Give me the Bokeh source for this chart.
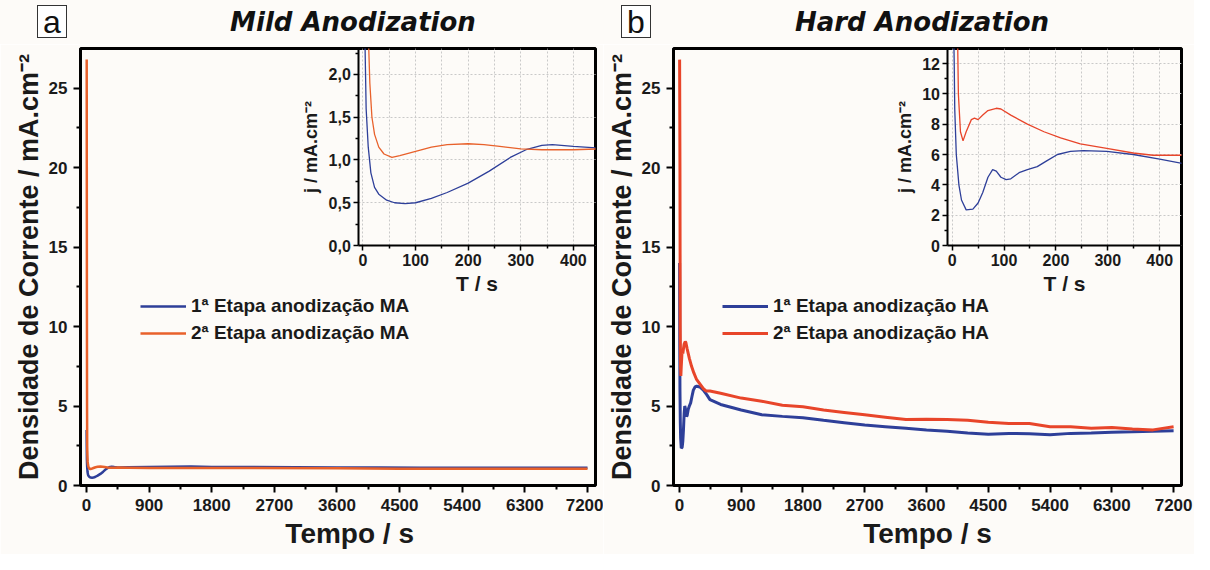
from bokeh.plotting import figure
from bokeh.models import (Range1d, LinearAxis, FixedTicker, Grid, Legend, LegendItem,
                          Div, CustomJSTickFormatter)
from bokeh.layouts import row, column
from bokeh.embed import file_html
from bokeh.resources import INLINE

# ---------------- data ----------------
# Panel a : Mild Anodization (MA)
t_ma1 = [2, 4, 6, 10, 15, 22, 30, 45, 60, 80, 100, 130, 160, 200, 240, 280, 310, 340, 360,
         400, 450, 600, 900, 1200, 1500, 1800, 2400, 3000, 3600, 4200, 4800, 5400, 6000, 6600, 7200]
j_ma1 = [3.5, 2.3, 1.6, 1.15, 0.85, 0.68, 0.6, 0.53, 0.5, 0.49, 0.5, 0.55, 0.62, 0.73, 0.87,
         1.03, 1.12, 1.17, 1.18, 1.16, 1.14, 1.15, 1.17, 1.18, 1.19, 1.17, 1.16, 1.15, 1.14,
         1.13, 1.12, 1.12, 1.12, 1.12, 1.12]
t_ma2 = [3, 6, 8, 10, 13, 17, 22, 30, 40, 55, 70, 100, 130, 160, 200, 230, 260, 300, 340,
         400, 450, 600, 900, 1500, 2400, 3600, 4500, 5400, 6300, 7200]
j_ma2 = [26.8, 12, 5, 2.5, 1.9, 1.5, 1.3, 1.15, 1.07, 1.03, 1.05, 1.1, 1.15, 1.18, 1.19, 1.18,
         1.16, 1.13, 1.12, 1.12, 1.13, 1.12, 1.1, 1.1, 1.1, 1.08, 1.05, 1.05, 1.05, 1.05]

# Panel b : Hard Anodization (HA)
t_ha1 = [3, 4, 5, 8, 13, 18, 27, 40, 50, 59, 69, 78, 85, 94, 104, 113, 129, 145, 164, 183,
         203, 228, 253, 298, 349, 400, 445, 600, 900, 1200, 1500, 1800, 2100, 2400, 2700,
         3000, 3300, 3600, 3900, 4200, 4500, 4800, 5100, 5400, 5700, 6000, 6300, 6600, 6900, 7200]
j_ha1 = [14, 12, 9, 6, 4, 3, 2.35, 2.4, 2.8, 3.5, 4.5, 5.0, 4.9, 4.5, 4.35, 4.4, 4.8, 5.0,
         5.2, 5.6, 6.0, 6.2, 6.25, 6.2, 6.0, 5.7, 5.4, 5.1, 4.75, 4.45, 4.35, 4.27, 4.1, 3.95,
         3.8, 3.7, 3.6, 3.5, 3.42, 3.3, 3.23, 3.28, 3.25, 3.2, 3.28, 3.3, 3.35, 3.38, 3.42, 3.45]
t_ha2 = [3, 8, 12, 16, 21, 27, 37, 43, 50, 59, 69, 85, 94, 113, 145, 177, 209, 247, 298, 349,
         387, 419, 445, 600, 900, 1200, 1500, 1800, 2100, 2400, 2700, 3000, 3300, 3600, 3900,
         4200, 4500, 4800, 5100, 5400, 5700, 6000, 6300, 6600, 6900, 7200]
j_ha2 = [26.8, 20, 10, 7.5, 6.9, 7.5, 8.3, 8.4, 8.3, 8.6, 8.9, 9.05, 9.0, 8.6, 8.0, 7.5, 7.1,
         6.7, 6.4, 6.1, 5.95, 5.95, 5.95, 5.8, 5.5, 5.3, 5.05, 4.95, 4.75, 4.6, 4.45, 4.3,
         4.15, 4.17, 4.15, 4.1, 3.98, 3.9, 3.9, 3.7, 3.7, 3.6, 3.65, 3.55, 3.5, 3.7]

labels_ma = ["1ª Etapa anodização MA", "2ª Etapa anodização MA"]
labels_ha = ["1ª Etapa anodização HA", "2ª Etapa anodização HA"]

x_ticks = [0, 900, 1800, 2700, 3600, 4500, 5400, 6300, 7200]
x_minor = [450, 1350, 2250, 3150, 4050, 4950, 5850, 6750]
y_ticks = [0, 5, 10, 15, 20, 25]
y_minor = [2.5, 7.5, 12.5, 17.5, 22.5]
ix_ticks = [0, 100, 200, 300, 400]
ix_minor = [50, 150, 250, 350, 450]
iya_ticks = [0.0, 0.5, 1.0, 1.5, 2.0]
iya_minor = [0.25, 0.75, 1.25, 1.75, 2.25]
iyb_ticks = [0, 2, 4, 6, 8, 10, 12]
iyb_minor = [1, 3, 5, 7, 9, 11]

# ---------------- style ----------------
BG = "#fdfbf8"
FONT = "Liberation Sans"
TXT = "#1a1a1a"
BLUE = "#2e3f99"
NB = "\u00a0"
HEAD_H = 44


def style_axis(ax, tick_size, label_size, tick_out, minor_out, tick_w, line_w, standoff, lab_standoff):
    ax.major_label_text_font = FONT
    ax.major_label_text_font_style = "bold"
    ax.major_label_text_font_size = tick_size
    ax.major_label_text_color = TXT
    ax.axis_label_text_font = FONT
    ax.axis_label_text_font_style = "bold"
    ax.axis_label_text_font_size = label_size
    ax.axis_label_text_color = TXT
    ax.major_tick_in = 0
    ax.minor_tick_in = 0
    ax.major_tick_out = tick_out
    ax.minor_tick_out = minor_out
    ax.major_tick_line_width = tick_w
    ax.minor_tick_line_width = tick_w
    ax.major_tick_line_color = "black"
    ax.minor_tick_line_color = "black"
    ax.axis_line_width = line_w
    ax.axis_line_color = "black"
    ax.major_label_standoff = standoff
    ax.axis_label_standoff = lab_standoff


def header(width, letter, letter_left, title, title_center):
    html = (
        f'<div style="position:relative;width:{width}px;height:{HEAD_H}px;background:{BG};'
        f'font-family:\'Liberation Sans\',Arial,sans-serif;">'
        f'<div style="position:absolute;left:{letter_left}px;top:5px;width:30px;height:33px;'
        f'border:1.5px solid #333;background:white;text-align:center;font-size:32px;'
        f'line-height:32px;color:#111;">{letter}</div>'
        f'<div style="position:absolute;left:{title_center - 200}px;top:6px;width:400px;'
        f'text-align:center;font-family:\'DejaVu Sans\',sans-serif;font-size:26px;'
        f'line-height:32px;font-weight:bold;font-style:italic;color:#111;">{title}</div>'
        f'</div>'
    )
    return Div(text=html, width=width, height=HEAD_H, margin=0,
               styles={"background-color": BG})


def make_panel(width, ml, mr, t1, j1, t2, j2, labels, red, main_w, leg_x,
               iy_top, iy_ticks, iy_minor, comma, xlabel):
    p = figure(width=width, height=554 - HEAD_H, output_backend="svg", toolbar_location=None,
               x_range=Range1d(-86, 7315), y_range=Range1d(0, 27.5),
               min_border_left=ml, min_border_right=mr, min_border_top=4,
               min_border_bottom=69, background_fill_color=BG, border_fill_color=BG,
               outline_line_color="black", outline_line_width=3, margin=0)
    p.xgrid.visible = False
    p.ygrid.visible = False

    p.xaxis.ticker = FixedTicker(ticks=x_ticks, minor_ticks=x_minor)
    p.yaxis.ticker = FixedTicker(ticks=y_ticks, minor_ticks=y_minor)
    p.xaxis.axis_label = xlabel
    p.yaxis.axis_label = "Densidade de Corrente / mA.cm⁻²"
    style_axis(p.xaxis[0], "17px", "28px", 7, 4, 2, 2, 6, 4)
    style_axis(p.yaxis[0], "17px", "27px", 7, 4, 2, 2, 6, 2)

    # main curves
    r1 = p.line(t1, j1, line_color=BLUE, line_width=main_w)
    r2 = p.line(t2, j2, line_color=red, line_width=main_w)

    # inset (zoom of first 450 s), drawn in its own ranges
    p.extra_x_ranges = {"ix": Range1d(-537, 442)}
    bottom_frac = 240.0 / 197.0
    p.extra_y_ranges = {"iy": Range1d(-iy_top * bottom_frac, iy_top)}

    gx = Grid(dimension=0, x_range_name="ix", y_range_name="iy",
              ticker=FixedTicker(ticks=ix_ticks + ix_minor),
              bounds=(0, 450), cross_bounds=(0, iy_top),
              grid_line_color="#c9c9c9", grid_line_dash="2 2", grid_line_width=1)
    gy = Grid(dimension=1, x_range_name="ix", y_range_name="iy",
              ticker=FixedTicker(ticks=iy_ticks),
              bounds=(0, iy_top), cross_bounds=(-8, 450),
              grid_line_color="#c9c9c9", grid_line_dash="2 2", grid_line_width=1)
    p.add_layout(gx)
    p.add_layout(gy)

    p.line(t1, j1, line_color=BLUE, line_width=1.3, x_range_name="ix", y_range_name="iy")
    p.line(t2, j2, line_color=red, line_width=1.3, x_range_name="ix", y_range_name="iy")

    ax = LinearAxis(x_range_name="ix", y_range_name="iy", fixed_location=0,
                    bounds=(-8, 450), axis_label="T / s",
                    ticker=FixedTicker(ticks=ix_ticks, minor_ticks=ix_minor))
    style_axis(ax, "16px", "21px", 5, 3, 1.5, 2, 3, 3)
    p.add_layout(ax, "below")
    ay = LinearAxis(x_range_name="ix", y_range_name="iy", fixed_location=-8,
                    bounds=(0, iy_top * 1.1), axis_label="j / mA.cm⁻²",
                    ticker=FixedTicker(ticks=iy_ticks, minor_ticks=iy_minor))
    if comma:
        ay.formatter = CustomJSTickFormatter(code="return tick.toFixed(1).replace('.', ',')")
    style_axis(ay, "16px", "18px", 5, 3, 1.5, 2, 3, 4)
    p.add_layout(ay, "left")

    # legend
    legend = Legend(items=[LegendItem(label=labels[0], renderers=[r1]),
                           LegendItem(label=labels[1], renderers=[r2])],
                    location=(leg_x, 141), padding=0, margin=0, spacing=5,
                    glyph_width=46, glyph_height=20, label_height=20, label_standoff=5,
                    border_line_alpha=0, background_fill_alpha=0,
                    label_text_font=FONT, label_text_font_style="bold",
                    label_text_font_size="19px", label_text_color=TXT)
    p.add_layout(legend)
    return p


pa = make_panel(603, 80, 8, t_ma1, j_ma1, t_ma2, j_ma2, labels_ma, "#e8612b", 2.5, 60,
                2.304, iya_ticks, iya_minor, True, NB * 3 + "Tempo / s")
pb = make_panel(591, 64, 13, t_ha1, j_ha1, t_ha2, j_ha2, labels_ha, "#e8452a", 3, 49,
                12.99, iyb_ticks, iyb_minor, False, "Tempo / s")

ha = header(603, "a", 37, "Mild Anodization", 353)
hb = header(591, "b", 18, "Hard Anodization", 319)

layout = row(column(ha, pa, spacing=0), column(hb, pb, spacing=0), spacing=0)
open("out.html", "w").write(file_html(layout, INLINE))
